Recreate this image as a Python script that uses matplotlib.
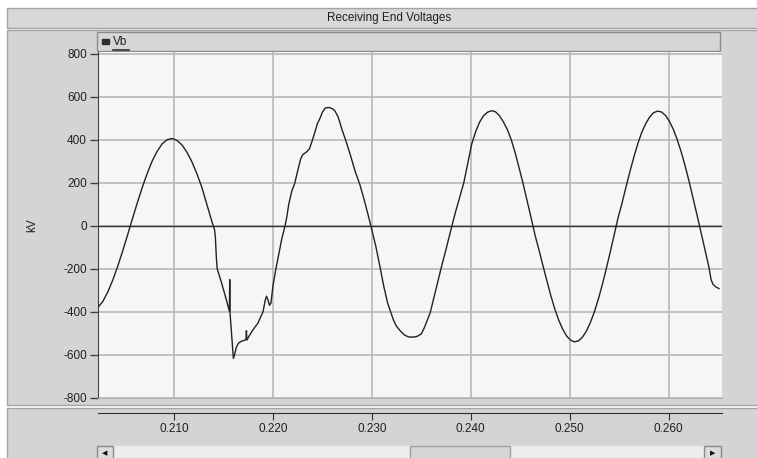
import matplotlib
matplotlib.use("Agg")
import matplotlib.pyplot as plt
from matplotlib.patches import Rectangle
from matplotlib.lines import Line2D

plt.rcParams['font.family'] = ['Liberation Sans', 'DejaVu Sans']

W, H = 757, 458

# Vb waveform (time in s, voltage in kV)
time_s = [0.2023, 0.2028, 0.2033, 0.2038, 0.2043, 0.2048, 0.2053, 0.2058, 0.2063, 0.2068,
          0.2073, 0.2078, 0.2083, 0.2088, 0.2093, 0.2098, 0.2103, 0.2108, 0.2113, 0.2118,
          0.2123, 0.2128, 0.2133, 0.2138, 0.2141, 0.21418, 0.21428, 0.21436, 0.2148, 0.2152,
          0.2156, 0.21563, 0.21566, 0.21585, 0.2160, 0.21612, 0.2163, 0.2165, 0.2168, 0.2171,
          0.21728, 0.21732, 0.21736, 0.2176, 0.2179, 0.2182, 0.21847, 0.2187, 0.2190, 0.2192,
          0.21935, 0.2195, 0.21965, 0.2198, 0.2200, 0.2203, 0.2206, 0.2209, 0.2212, 0.2214,
          0.2216, 0.2219, 0.2222, 0.2225, 0.2228, 0.2230, 0.22342, 0.2237, 0.2241, 0.2245,
          0.22476, 0.2250, 0.2253, 0.2257, 0.2261, 0.2263, 0.2266, 0.2270, 0.2274, 0.2279,
          0.2283, 0.2288, 0.2292, 0.2296, 0.2299, 0.2304, 0.2308, 0.2312, 0.2316, 0.2319,
          0.2322, 0.2325, 0.2329, 0.2333, 0.2337, 0.2342, 0.2346, 0.2350, 0.2353, 0.2356,
          0.2359, 0.2363, 0.2367, 0.2371, 0.2375, 0.2378, 0.2381, 0.2385, 0.2389, 0.2393,
          0.2397, 0.2401, 0.2405, 0.2409, 0.2413, 0.2417, 0.2421, 0.2425, 0.2429, 0.2433,
          0.2437, 0.2441, 0.2445, 0.2449, 0.2453, 0.2457, 0.2461, 0.2465, 0.2469, 0.2473,
          0.2477, 0.2481, 0.2485, 0.2489, 0.2493, 0.2497, 0.2501, 0.2505, 0.2509, 0.2513,
          0.2517, 0.2521, 0.2525, 0.2529, 0.2533, 0.2537, 0.2541, 0.2545, 0.2549, 0.2553,
          0.2557, 0.2561, 0.2565, 0.2569, 0.2573, 0.2577, 0.2581, 0.2585, 0.2589, 0.2593,
          0.2597, 0.2601, 0.2605, 0.2609, 0.2613, 0.2617, 0.2621, 0.2625, 0.2629, 0.2633,
          0.2637, 0.2641, 0.2643, 0.2645, 0.2648, 0.2651]
vb_kv = [-380, -352, -308, -253, -189, -118, -43, 34, 109, 180,
         245, 302, 347, 381, 400, 406, 397, 376, 342, 298,
         243, 180, 102, 24, -20, -55, -150, -200, -265, -330,
         -398, -250, -405, -520, -617, -600, -565, -547, -537, -533,
         -528, -488, -532, -512, -490, -470, -454, -430, -400, -350,
         -328, -345, -370, -360, -280, -200, -130, -60, -5, 40,
         100, 160, 197, 255, 310, 330, 344, 358, 414, 475,
         500, 528, 548, 550, 542, 532, 505, 445, 392, 318,
         255, 190, 125, 55, 0, -95, -185, -280, -360, -400,
         -440, -468, -490, -508, -517, -518, -514, -503, -475, -440,
         -405, -330, -255, -180, -110, -55, 0, 70, 135, 200,
         290, 380, 438, 482, 512, 528, 535, 530, 512, 483,
         448, 400, 338, 268, 195, 117, 38, -43, -112, -185,
         -255, -325, -387, -439, -481, -513, -532, -540, -535, -518,
         -490, -450, -401, -342, -275, -201, -124, -44, 37, 105,
         180, 252, 320, 382, 435, 475, 506, 526, 533, 529,
         513, 485, 447, 398, 341, 275, 203, 126, 47, -33,
         -112, -195, -250, -272, -285, -292]

x_ticks = [0.210, 0.220, 0.230, 0.240, 0.250, 0.260]
x_labels = ["0.210", "0.220", "0.230", "0.240", "0.250", "0.260"]
y_ticks = [-800, -600, -400, -200, 0, 200, 400, 600, 800]

title = "Receiving End Voltages"
series_name = "Vb"
y_label = "kV"

PANEL = "#d4d4d4"
EDGE = "#a4a4a4"


def box(x0, y0, x1, y1, fc, ec=None, lw=1.0, z=0):
    # pixel box, origin top-left
    r = Rectangle((x0 / W, 1 - y1 / H), (x1 - x0) / W, (y1 - y0) / H,
                  transform=fig.transFigure, facecolor=fc,
                  edgecolor=ec if ec else fc, lw=lw, zorder=z)
    fig.add_artist(r)


def ax_rect(x0, y0, x1, y1):
    return [x0 / W, 1 - y1 / H, (x1 - x0) / W, (y1 - y0) / H]


fig = plt.figure(figsize=(W / 100, H / 100), dpi=100, facecolor="white")

# window panels
box(7, 8, 760, 28, "#d8d8d8", EDGE)
box(7, 30, 760, 405, PANEL, EDGE)
box(7, 408, 760, 462, PANEL, EDGE)
box(97, 32, 720, 51, "#d6d6d6", "#8a8a8a")
fig.text(389 / W, 1 - 18 / H, title, ha="center", va="center", fontsize=8.5, color="#202020")

# legend entry
box(102, 39, 109, 44, "#303030", z=2)
fig.text(113 / W, 1 - 42 / H, series_name, ha="left", va="center", fontsize=8.5, color="#202020")
fig.add_artist(Line2D([113 / W, 129 / W], [1 - 50 / H, 1 - 50 / H],
                      transform=fig.transFigure, color="#303030", lw=1.2))

# main plot
ax = fig.add_axes(ax_rect(98, 52, 722, 398))
ax.set_facecolor("#f6f6f6")
ax.plot(time_s, vb_kv, color="#222222", lw=1.0, zorder=3)
ax.axhline(0, color="#303030", lw=1.0, zorder=2)
ax.set_xlim(0.20231, 0.26541)
ax.set_ylim(-801, 808)
ax.set_xticks(x_ticks)
ax.set_yticks(y_ticks)
ax.set_yticklabels([str(v) for v in y_ticks])
ax.grid(True, color="#b8b8b8", lw=1.2, zorder=1)
ax.tick_params(axis="x", length=0, labelbottom=False)
ax.tick_params(axis="y", direction="out", length=6, width=1, color="#404040",
               labelsize=8.5, labelcolor="#202020", pad=2)
for s in ["top", "right"]:
    ax.spines[s].set_visible(False)
ax.spines["bottom"].set_color("#b0b0b0")
ax.spines["left"].set_color("#404040")
ax.set_ylabel(y_label, fontsize=8.5, color="#202020", labelpad=18)

# lower time axis
ax2 = fig.add_axes(ax_rect(98, 412.9, 722, 413))
ax2.set_xlim(ax.get_xlim())
ax2.set_xticks(x_ticks)
ax2.set_xticklabels(x_labels)
ax2.set_yticks([])
ax2.patch.set_visible(False)
for s in ["top", "right", "left"]:
    ax2.spines[s].set_visible(False)
ax2.spines["bottom"].set_color("#303030")
ax2.tick_params(axis="x", direction="out", length=5, color="#303030",
                labelsize=8.5, labelcolor="#202020", pad=2)

# scrollbar
box(113, 446, 704, 462, "#ececec")
box(97, 446, 113, 462, "#dcdcdc", "#8a8a8a")
box(704, 446, 721, 462, "#dcdcdc", "#8a8a8a")
box(410, 446, 510, 462, "#d6d6d6", "#a0a0a0")
fig.text(105 / W, 1 - 453 / H, "\u25c0", ha="center", va="center", fontsize=5,
         color="#101010", family="DejaVu Sans")
fig.text(712.5 / W, 1 - 453 / H, "\u25b6", ha="center", va="center", fontsize=5,
         color="#101010", family="DejaVu Sans")

fig.savefig("out.png", dpi=100, facecolor=fig.get_facecolor())
